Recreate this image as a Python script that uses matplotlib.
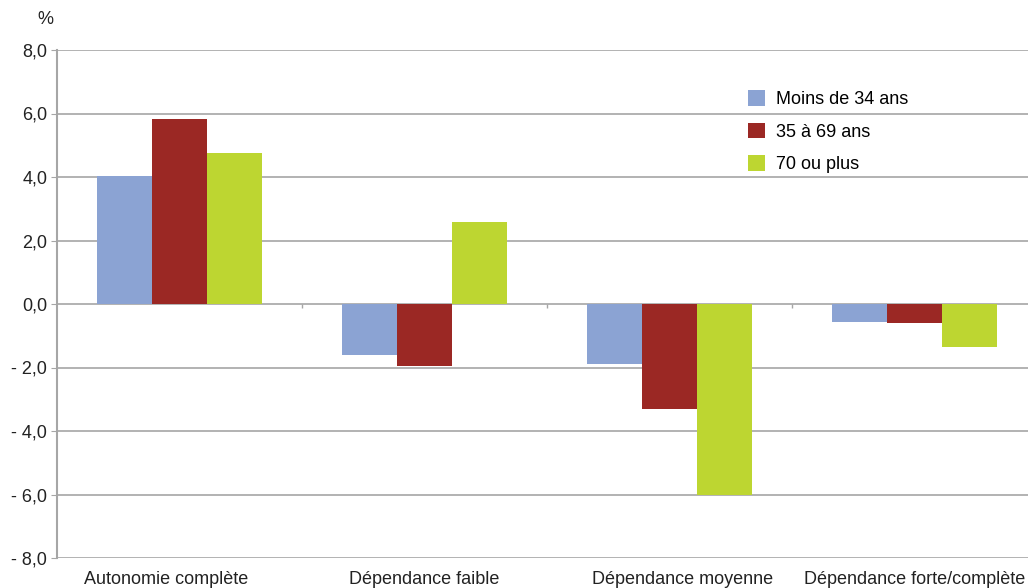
import matplotlib
matplotlib.use("Agg")
import matplotlib.pyplot as plt
import numpy as np

plt.rcParams["font.family"] = ["Liberation Sans", "DejaVu Sans"]

categories = ["Autonomie complète", "Dépendance faible",
              "Dépendance moyenne", "Dépendance forte/complète"]
series = ["Moins de 34 ans", "35 à 69 ans", "70 ou plus"]
moins_34 = [4.03, -1.6, -1.9, -0.57]
de_35_69 = [5.83, -1.95, -3.3, -0.6]
plus_70 = [4.76, 2.58, -6.0, -1.35]
colors = ["#8BA3D3", "#9B2824", "#BDD631"]
yticks = [-8, -6, -4, -2, 0, 2, 4, 6, 8]

fig = plt.figure(figsize=(10.28, 5.88), dpi=100)
ax = fig.add_axes([57 / 1028, 30 / 588, 980 / 1028, 508 / 588])

x = np.arange(len(categories)) + 0.5
w = 0.2245
for i, (vals, lab, c) in enumerate(zip([moins_34, de_35_69, plus_70], series, colors)):
    ax.bar(x + (i - 1) * w, vals, w, color=c, label=lab, zorder=3)

ax.set_xlim(0, len(categories))
ax.set_ylim(-8, 8)
ax.set_yticks(yticks)
ax.set_yticklabels([f"{v:.1f}".replace(".", ",").replace("-", "- ") for v in yticks],
                   fontsize=13, color="#222222")
ax.yaxis.grid(True, color="#A6A6A6", lw=1.2, zorder=0)
ax.tick_params(axis="y", length=4, color="#A6A6A6", pad=3)
# labels in the source are spread a little wider than the bars;
# the last one stays on its group so it is not cut by the edge
label_pos = 1.5 + (x - 1.5) * 1.055
label_pos[-1] = x[-1]
ax.set_xticks(label_pos)
ax.set_xticklabels(categories, fontsize=13, color="#222222")
ax.tick_params(axis="x", length=0, pad=9)
for s in ["top", "right", "bottom"]:
    ax.spines[s].set_visible(False)
ax.spines["left"].set_color("#A6A6A6")
ax.spines["left"].set_linewidth(1.5)

# small ticks between categories on the zero line
ax.vlines(np.arange(1, len(categories)), -0.12, 0, color="#A6A6A6", lw=1, zorder=2)

fig.text(37 / 1028, 1 - 20 / 588, "%", fontsize=13, color="#222222", va="center")

leg = ax.legend(loc="upper left", bbox_to_anchor=(0.698, 0.935), frameon=False,
                fontsize=13, handlelength=0.95, handleheight=0.95, labelspacing=0.8,
                handletextpad=0.6, borderaxespad=0)

fig.savefig("out.png", dpi=100)
